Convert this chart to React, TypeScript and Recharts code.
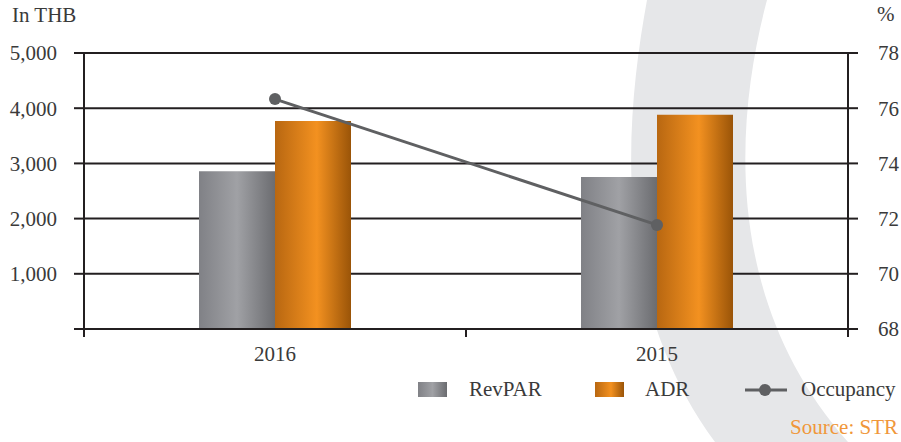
import { ComposedChart, Bar, Line, XAxis, YAxis, CartesianGrid, Legend } from 'recharts'

const years = ['2016', '2015']
const revpar = [2860, 2755]
const adr = [3770, 3880]
const occupancy = [76.33, 71.77]

const leftTicks = [0, 1000, 2000, 3000, 4000, 5000]
const rightTicks = [68, 70, 72, 74, 76, 78]

const data = years.map((year, i) => ({ year, revpar: revpar[i], adr: adr[i], occupancy: occupancy[i] }))

const FONT = 'Liberation Serif, Times New Roman, DejaVu Serif, serif'
const TEXT = '#3a3a3a'
const INK = '#231f20'

// category label plus the boundary tick marks below the x axis
function YearTick(props: any) {
  const { x, y, payload } = props
  const half = payload?.offset ?? 191
  return (
    <g>
      <line x1={x - half} y1={y} x2={x - half} y2={y + 8} stroke={INK} strokeWidth={2} />
      <line x1={x + half} y1={y} x2={x + half} y2={y + 8} stroke={INK} strokeWidth={2} />
      <text x={x} y={y + 32} textAnchor="middle" fill={TEXT} fontSize={21} fontFamily={FONT}>
        {payload.value}
      </text>
    </g>
  )
}

function LegendBox() {
  const label = { position: 'absolute' as const, top: 377, fontSize: 21, fontFamily: FONT, color: TEXT, lineHeight: '24px' }
  return (
    <div style={{ position: 'relative', width: 901, height: 40 }}>
      <div style={{ position: 'absolute', left: 418, top: 382, width: 29, height: 15, background: 'linear-gradient(to right, #808186, #a0a1a5 50%, #6b6c70)' }} />
      <div style={{ ...label, left: 469 }}>RevPAR</div>
      <div style={{ position: 'absolute', left: 595, top: 382, width: 29, height: 15, background: 'linear-gradient(to right, #b86711, #f39120 55%, #9a5408)' }} />
      <div style={{ ...label, left: 645 }}>ADR</div>
      <svg style={{ position: 'absolute', left: 743, top: 380 }} width={46} height={20}>
        <line x1={2} y1={10} x2={44} y2={10} stroke="#5f6062" strokeWidth={3} />
        <circle cx={22} cy={10} r={6} fill="#5f6062" />
      </svg>
      <div style={{ ...label, left: 801 }}>Occupancy</div>
    </div>
  )
}

export default function App() {
  return (
    <div style={{ position: 'relative', width: 901, height: 442, background: '#fff', overflow: 'hidden' }}>
      <style>{`body{margin:0}`}</style>
      <svg width={901} height={442} style={{ position: 'absolute', left: 0, top: 0 }}>
        <path
          d="M 647 0 C 625 120 610 300 715 442 L 848 442 C 722 300 735 120 767 0 Z"
          fill="#e6e7e9"
        />
      </svg>
      <div style={{ position: 'absolute', left: 12, top: 3, fontSize: 21, fontFamily: FONT, color: TEXT }}>In THB</div>
      <div style={{ position: 'absolute', left: 877, top: 2, fontSize: 21, fontFamily: FONT, color: TEXT }}>%</div>
      <div style={{ position: 'absolute', right: 3, top: 415, fontSize: 21, fontFamily: FONT, color: '#f0973a' }}>Source: STR</div>
      <div style={{ position: 'absolute', left: 0, top: 0 }}>
        <ComposedChart
          width={901}
          height={442}
          data={data}
          margin={{ top: 53, right: 0, left: 0, bottom: 83 }}
          barGap={0}
        >
          <defs>
            <linearGradient id="grayGrad" x1="0" y1="0" x2="1" y2="0">
              <stop offset="0%" stopColor="#808186" />
              <stop offset="50%" stopColor="#a0a1a5" />
              <stop offset="100%" stopColor="#6b6c70" />
            </linearGradient>
            <linearGradient id="orangeGrad" x1="0" y1="0" x2="1" y2="0">
              <stop offset="0%" stopColor="#b86711" />
              <stop offset="55%" stopColor="#f39120" />
              <stop offset="100%" stopColor="#9a5408" />
            </linearGradient>
          </defs>
          <CartesianGrid vertical={false} stroke={INK} strokeWidth={2} yAxisId="left" />
          <XAxis
            dataKey="year"
            height={30}
            tickSize={0}
            tickMargin={0}
            tickLine={false}
            axisLine={{ stroke: INK, strokeWidth: 2 }}
            tick={<YearTick />}
          />
          <YAxis
            yAxisId="left"
            width={84}
            domain={[0, 5000]}
            ticks={leftTicks}
            tickFormatter={(v: number) => (v === 0 ? '' : v.toLocaleString('en-US'))}
            tickSize={10}
            tickMargin={17}
            tickLine={{ stroke: INK, strokeWidth: 2 }}
            axisLine={{ stroke: INK, strokeWidth: 2 }}
            tick={{ fill: TEXT, fontSize: 21, fontFamily: FONT }}
          />
          <YAxis
            yAxisId="right"
            orientation="right"
            width={53}
            domain={[68, 78]}
            ticks={rightTicks}
            tickSize={10}
            tickMargin={20}
            tickLine={{ stroke: INK, strokeWidth: 2 }}
            axisLine={{ stroke: INK, strokeWidth: 2 }}
            tick={{ fill: TEXT, fontSize: 21, fontFamily: FONT, textAnchor: 'start' }}
          />
          <Bar yAxisId="left" dataKey="revpar" name="RevPAR" barSize={76} fill="url(#grayGrad)" isAnimationActive={false} />
          <Bar yAxisId="left" dataKey="adr" name="ADR" barSize={76} fill="url(#orangeGrad)" isAnimationActive={false} />
          <Line
            yAxisId="right"
            dataKey="occupancy"
            name="Occupancy"
            stroke="#5f6062"
            strokeWidth={3}
            dot={{ r: 6, fill: '#5f6062', stroke: 'none' }}
            isAnimationActive={false}
          />
          <Legend content={<LegendBox />} wrapperStyle={{ position: 'absolute', left: 0, top: 0, width: 901, height: 0 }} />
        </ComposedChart>
      </div>
    </div>
  )
}
